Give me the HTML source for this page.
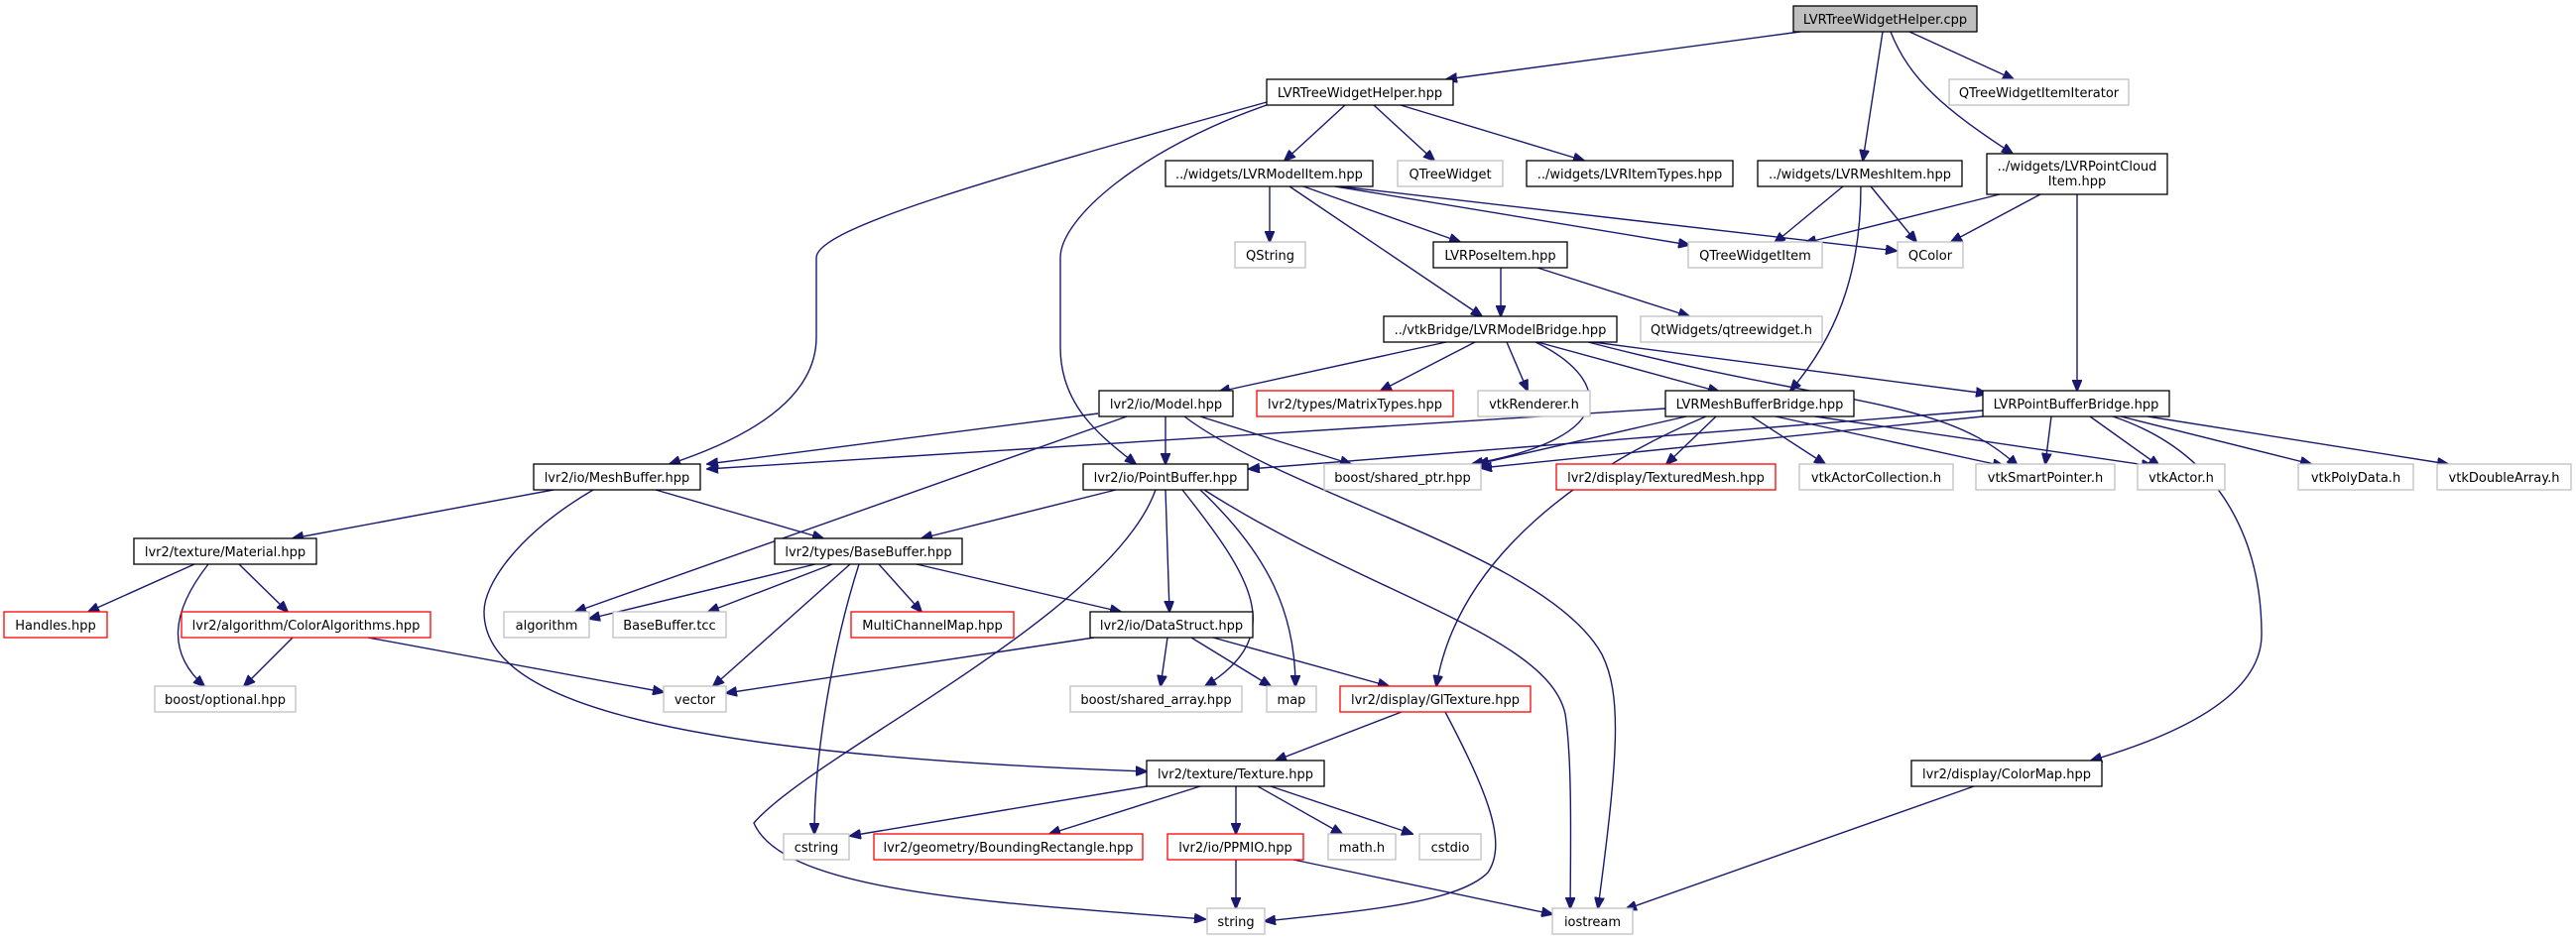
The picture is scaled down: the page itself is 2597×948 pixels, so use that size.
<!DOCTYPE html>
<html><head><meta charset="utf-8"><style>
html,body{margin:0;padding:0;background:#fff}
svg{display:block}
text{font-family:"DejaVu Sans","Liberation Sans",sans-serif;font-size:13px;fill:#000}
.e{fill:none;stroke:#191970;stroke-width:1.4}
.n{fill:#fff;stroke:#000;stroke-width:1.3}
.x{fill:#fff;stroke:#bfbfbf;stroke-width:1.3}
.r{fill:#fff;stroke:#ff0000;stroke-width:1.3}
.g{fill:#bfbfbf;stroke:#000;stroke-width:1.3}
</style></head><body>
<svg width="2597" height="948" viewBox="0 0 2597 948" xmlns="http://www.w3.org/2000/svg">
<defs><marker id="a" markerWidth="12" markerHeight="10" refX="11" refY="5" orient="auto" markerUnits="userSpaceOnUse"><path d="M0,0 L12,5 L0,10 z" fill="#191970" stroke="#191970"/></marker></defs>
<g class="e" marker-end="url(#a)">
<path d="M1815,32 L1458,80"/>
<path d="M1925,32 L2030,80"/>
<path d="M1898,32 L1878,162"/>
<path d="M1906,32 C1925,80 1960,110 2029,155"/>
<path d="M1356,106 L1295,162"/>
<path d="M1385,106 L1446,162"/>
<path d="M1412,106 L1597,162"/>
<path d="M1277,103 C1000,180 823,230 823,260 L823,340 C823,400 760,440 675,468"/>
<path d="M1277,106 C1150,150 1069,220 1069,260 L1069,350 C1069,410 1110,440 1145,468"/>
<path d="M1280,188 L1280,244"/>
<path d="M1314,188 L1472,244"/>
<path d="M1300,188 L1494,319"/>
<path d="M1346,188 L1703,247"/>
<path d="M1351,188 L1912,253"/>
<path d="M1858,188 L1789,245"/>
<path d="M1886,188 L1932,244"/>
<path d="M1876,188 C1876,260 1860,330 1805,394"/>
<path d="M2016,196 L1820,245"/>
<path d="M2057,196 L1967,244"/>
<path d="M2094,196 L2094,394"/>
<path d="M1513,270 L1513,319"/>
<path d="M1550,270 L1703,319"/>
<path d="M1458,345 L1229,395"/>
<path d="M1487,345 L1392,394"/>
<path d="M1519,345 L1540,394"/>
<path d="M1550,345 L1733,395"/>
<path d="M1606,345 L2003,397"/>
<path d="M1548,345 C1620,380 1640,440 1484,468"/>
<path d="M1601,345 C1850,410 1960,400 2034,470"/>
<path d="M1107,417 L713,468"/>
<path d="M1175,420 L1175,468"/>
<path d="M1136,420 L580,617"/>
<path d="M1210,420 L1362,468"/>
<path d="M1194,420 C1300,500 1560,560 1615,660 C1635,700 1632,760 1611,916"/>
<path d="M1679,412 L713,473"/>
<path d="M1700,420 L1490,468"/>
<path d="M1730,420 L1680,468"/>
<path d="M1766,420 L1840,468"/>
<path d="M1790,420 L2020,470"/>
<path d="M1830,420 L2170,470"/>
<path d="M1720,420 C1600,470 1470,560 1448,692"/>
<path d="M1999,414 L1259,473"/>
<path d="M1999,420 L1493,472"/>
<path d="M2068,420 L2062,468"/>
<path d="M2107,420 L2177,470"/>
<path d="M2138,420 L2330,468"/>
<path d="M2165,420 L2468,468"/>
<path d="M2130,420 C2250,460 2280,560 2280,640 C2280,700 2200,740 2108,767"/>
<path d="M558,494 L295,543"/>
<path d="M661,494 L830,543"/>
<path d="M598,494 C520,540 488,590 488,617 C488,700 640,760 1156,778"/>
<path d="M1125,494 L929,543"/>
<path d="M1175,494 L1179,617"/>
<path d="M1192,494 C1260,580 1300,640 1215,692"/>
<path d="M1210,494 C1280,560 1306,620 1306,692"/>
<path d="M1214,494 C1380,600 1560,640 1578,720 C1584,760 1584,820 1583,916"/>
<path d="M1165,494 C1120,620 820,760 760,830 C790,900 1000,910 1215,927"/>
<path d="M196,569 L89,617"/>
<path d="M210,569 C170,620 170,660 206,692"/>
<path d="M241,569 L290,617"/>
<path d="M295,643 L246,692"/>
<path d="M371,643 L669,698"/>
<path d="M822,569 L594,624"/>
<path d="M839,569 L714,617"/>
<path d="M857,569 L719,692"/>
<path d="M866,569 C840,650 821,760 821,841"/>
<path d="M886,569 L929,617"/>
<path d="M924,569 L1130,617"/>
<path d="M1103,643 L732,699"/>
<path d="M1177,643 L1170,692"/>
<path d="M1201,643 L1281,692"/>
<path d="M1223,643 L1400,692"/>
<path d="M1413,718 L1286,767"/>
<path d="M1457,718 C1500,800 1520,850 1500,880 C1470,910 1380,918 1275,929"/>
<path d="M1156,793 L857,843"/>
<path d="M1210,793 L1058,841"/>
<path d="M1246,793 L1246,841"/>
<path d="M1268,793 L1353,841"/>
<path d="M1281,793 L1424,841"/>
<path d="M1246,867 L1246,916"/>
<path d="M1304,867 L1565,922"/>
<path d="M1990,793 L1639,917"/>
</g>
<g text-anchor="middle">
<rect class="g" x="1808" y="6" width="185" height="26"/><text x="1900.5" y="24">LVRTreeWidgetHelper.cpp</text>
<rect class="n" x="1277" y="80" width="188" height="26"/><text x="1371" y="98">LVRTreeWidgetHelper.hpp</text>
<rect class="x" x="1965" y="80" width="181" height="26"/><text x="2055.5" y="98">QTreeWidgetItemIterator</text>
<rect class="n" x="1175" y="162" width="209" height="26"/><text x="1279.5" y="180">../widgets/LVRModelItem.hpp</text>
<rect class="x" x="1409" y="162" width="106" height="26"/><text x="1462" y="180">QTreeWidget</text>
<rect class="n" x="1539" y="162" width="208" height="26"/><text x="1643" y="180">../widgets/LVRItemTypes.hpp</text>
<rect class="n" x="1772" y="162" width="206" height="26"/><text x="1875" y="180">../widgets/LVRMeshItem.hpp</text>
<rect class="n" x="2003" y="155" width="182" height="41"/><text x="2094" y="172">../widgets/LVRPointCloud</text><text x="2094" y="187">Item.hpp</text>
<rect class="x" x="1245" y="244" width="71" height="26"/><text x="1280.5" y="262">QString</text>
<rect class="n" x="1445" y="244" width="135" height="26"/><text x="1512.5" y="262">LVRPoseItem.hpp</text>
<rect class="x" x="1702" y="244" width="135" height="26"/><text x="1769.5" y="262">QTreeWidgetItem</text>
<rect class="x" x="1913" y="244" width="66" height="26"/><text x="1946" y="262">QColor</text>
<rect class="n" x="1395" y="319" width="235" height="26"/><text x="1512.5" y="337">../vtkBridge/LVRModelBridge.hpp</text>
<rect class="x" x="1654" y="319" width="183" height="26"/><text x="1745.5" y="337">QtWidgets/qtreewidget.h</text>
<rect class="n" x="1108" y="394" width="135" height="26"/><text x="1175.5" y="412">lvr2/io/Model.hpp</text>
<rect class="r" x="1267" y="394" width="198" height="26"/><text x="1366" y="412">lvr2/types/MatrixTypes.hpp</text>
<rect class="x" x="1490" y="394" width="113" height="26"/><text x="1546.5" y="412">vtkRenderer.h</text>
<rect class="n" x="1679" y="394" width="190" height="26"/><text x="1774" y="412">LVRMeshBufferBridge.hpp</text>
<rect class="n" x="1999" y="394" width="188" height="26"/><text x="2093" y="412">LVRPointBufferBridge.hpp</text>
<rect class="n" x="538" y="468" width="168" height="26"/><text x="622" y="486">lvr2/io/MeshBuffer.hpp</text>
<rect class="n" x="1092" y="468" width="166" height="26"/><text x="1175" y="486">lvr2/io/PointBuffer.hpp</text>
<rect class="x" x="1335" y="468" width="158" height="26"/><text x="1414" y="486">boost/shared_ptr.hpp</text>
<rect class="r" x="1569" y="468" width="221" height="26"/><text x="1679.5" y="486">lvr2/display/TexturedMesh.hpp</text>
<rect class="x" x="1814" y="468" width="155" height="26"/><text x="1891.5" y="486">vtkActorCollection.h</text>
<rect class="x" x="1992" y="468" width="140" height="26"/><text x="2062" y="486">vtkSmartPointer.h</text>
<rect class="x" x="2155" y="468" width="88" height="26"/><text x="2199" y="486">vtkActor.h</text>
<rect class="x" x="2317" y="468" width="116" height="26"/><text x="2375" y="486">vtkPolyData.h</text>
<rect class="x" x="2457" y="468" width="135" height="26"/><text x="2524.5" y="486">vtkDoubleArray.h</text>
<rect class="n" x="135" y="543" width="184" height="26"/><text x="227" y="561">lvr2/texture/Material.hpp</text>
<rect class="n" x="781" y="543" width="189" height="26"/><text x="875.5" y="561">lvr2/types/BaseBuffer.hpp</text>
<rect class="r" x="4" y="617" width="104" height="26"/><text x="56" y="635">Handles.hpp</text>
<rect class="r" x="183" y="617" width="251" height="26"/><text x="308.5" y="635">lvr2/algorithm/ColorAlgorithms.hpp</text>
<rect class="x" x="508" y="617" width="86" height="26"/><text x="551" y="635">algorithm</text>
<rect class="x" x="618" y="617" width="114" height="26"/><text x="675" y="635">BaseBuffer.tcc</text>
<rect class="r" x="858" y="617" width="164" height="26"/><text x="940" y="635">MultiChannelMap.hpp</text>
<rect class="n" x="1099" y="617" width="164" height="26"/><text x="1181" y="635">lvr2/io/DataStruct.hpp</text>
<rect class="x" x="156" y="692" width="142" height="26"/><text x="227" y="710">boost/optional.hpp</text>
<rect class="x" x="669" y="692" width="63" height="26"/><text x="700.5" y="710">vector</text>
<rect class="x" x="1079" y="692" width="173" height="26"/><text x="1165.5" y="710">boost/shared_array.hpp</text>
<rect class="x" x="1277" y="692" width="50" height="26"/><text x="1302" y="710">map</text>
<rect class="r" x="1351" y="692" width="192" height="26"/><text x="1447" y="710">lvr2/display/GlTexture.hpp</text>
<rect class="n" x="1156" y="767" width="179" height="26"/><text x="1245.5" y="785">lvr2/texture/Texture.hpp</text>
<rect class="n" x="1927" y="767" width="192" height="26"/><text x="2023" y="785">lvr2/display/ColorMap.hpp</text>
<rect class="x" x="790" y="841" width="66" height="26"/><text x="823" y="859">cstring</text>
<rect class="r" x="881" y="841" width="271" height="26"/><text x="1016.5" y="859">lvr2/geometry/BoundingRectangle.hpp</text>
<rect class="r" x="1177" y="841" width="137" height="26"/><text x="1245.5" y="859">lvr2/io/PPMIO.hpp</text>
<rect class="x" x="1339" y="841" width="68" height="26"/><text x="1373" y="859">math.h</text>
<rect class="x" x="1431" y="841" width="62" height="26"/><text x="1462" y="859">cstdio</text>
<rect class="x" x="1217" y="916" width="58" height="26"/><text x="1246" y="934">string</text>
<rect class="x" x="1565" y="916" width="81" height="26"/><text x="1605.5" y="934">iostream</text>
</g>
</svg>
</body></html>
